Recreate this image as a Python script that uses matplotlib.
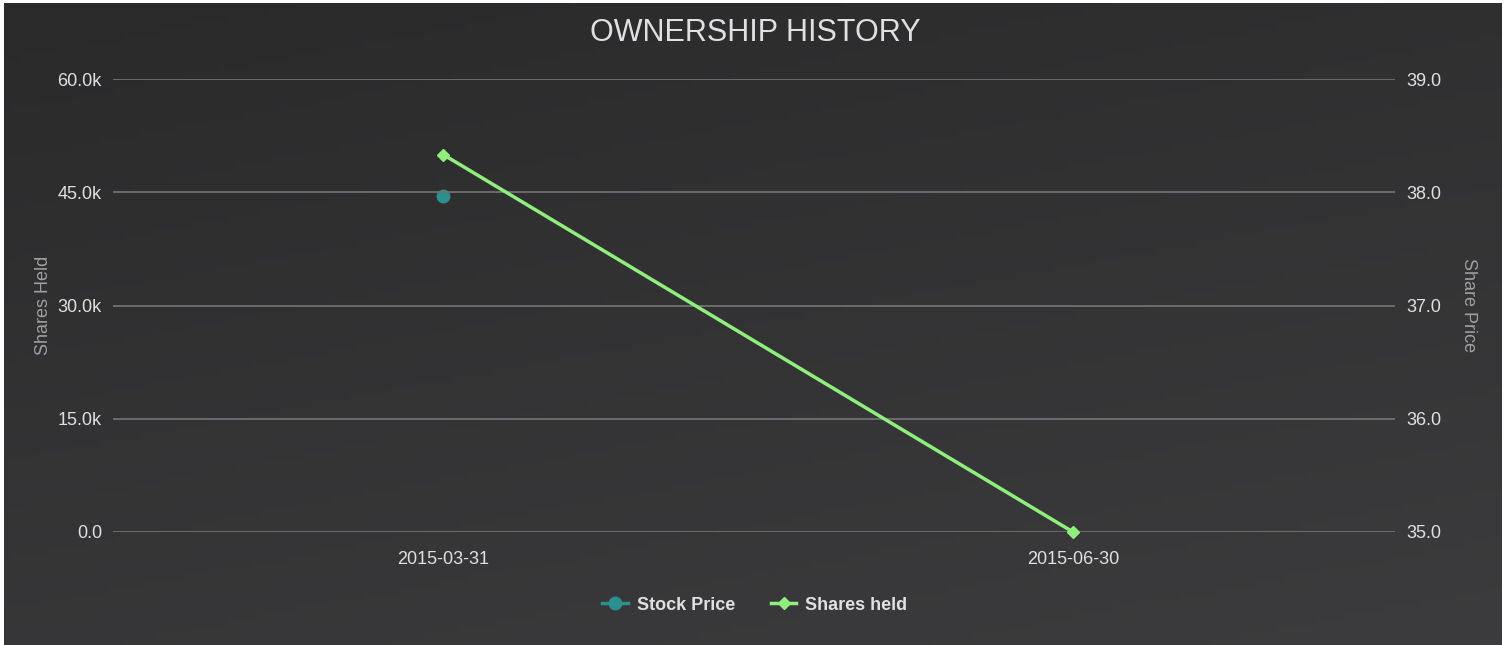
import numpy as np
import matplotlib.pyplot as plt
from matplotlib.ticker import FuncFormatter, FixedLocator
from matplotlib.colors import LinearSegmentedColormap

# data
dates = ["2015-03-31", "2015-06-30"]
stock_price = [37.97, np.nan]
shares_held = [50000, 0]

shares_ticks = [0, 15000, 30000, 45000, 60000]
price_ticks = [35.0, 36.0, 37.0, 38.0, 39.0]

plt.rcParams['font.family'] = ['Liberation Sans', 'DejaVu Sans']

text_col = "#e0e0e3"
label_col = "#a0a0a3"
grid_col = "#707073"
price_col = "#2b908f"
shares_col = "#90ee7e"

fig = plt.figure(figsize=(15.1, 6.45), dpi=100, facecolor="white")

# dark gradient background, darker at the top left
bg = fig.add_axes([4 / 1510, 0, 1498 / 1510, 1 - 3 / 645])
xx, yy = np.meshgrid(np.linspace(0, 1, 200), np.linspace(0, 1, 100))
grad = xx * 0.3 + yy * 0.7
cmap = LinearSegmentedColormap.from_list("bg", ["#2a2a2b", "#3c3c3e"])
bg.imshow(grad, cmap=cmap, aspect="auto", extent=[0, 1, 0, 1], origin="upper")
bg.set_axis_off()

left, right = 113 / 1510, 1395 / 1510
bottom, top = 1 - 532 / 645, 1 - 79 / 645
ax = fig.add_axes([left, bottom, right - left, top - bottom])
ax.patch.set_alpha(0)
ax2 = ax.twinx()
ax2.patch.set_alpha(0)

x = np.arange(len(dates))

ax2.plot(x, stock_price, color=price_col, marker="o", markersize=9, lw=2.5,
         label="Stock Price", clip_on=False, zorder=3)
ax.plot(x, shares_held, color=shares_col, marker="D", markersize=6.5, lw=2.5,
        label="Shares held", clip_on=False, zorder=4)
ax.set_zorder(ax2.get_zorder() + 1)

ax.set_xlim(-0.524, 1.511)
ax.set_ylim(0, 60000)
ax2.set_ylim(35, 39)

ax.yaxis.set_major_locator(FixedLocator(shares_ticks))
ax.yaxis.set_major_formatter(FuncFormatter(lambda v, p: "{:.1f}k".format(v / 1000) if v else "0.0"))
ax2.yaxis.set_major_locator(FixedLocator(price_ticks))
ax2.yaxis.set_major_formatter(FuncFormatter(lambda v, p: "{:.1f}".format(v)))

ax.set_xticks(x)
ax.set_xticklabels(dates)

ax.grid(True, axis="y", color=grid_col, lw=1.3)
ax.set_axisbelow(True)

for a in (ax, ax2):
    for s in a.spines.values():
        s.set_visible(False)
    a.tick_params(length=0, colors=text_col, labelsize=13)
ax.tick_params(axis="y", pad=8)
ax2.tick_params(axis="y", pad=8)
ax.tick_params(axis="x", pad=14)

ax.set_ylabel("Shares Held", color=label_col, fontsize=13, labelpad=4)
ax2.set_ylabel("Share Price", color=label_col, fontsize=13, rotation=270, labelpad=26)

fig.text(0.5, 1 - 33 / 645, "OWNERSHIP HISTORY", color=text_col, fontsize=22,
         ha="center", va="center")

h1, l1 = ax2.get_legend_handles_labels()
h2, l2 = ax.get_legend_handles_labels()
leg = fig.legend(h1 + h2, l1 + l2, loc="center", bbox_to_anchor=(0.5, 1 - 605 / 645),
                 ncol=2, frameon=False, handlelength=1.4, columnspacing=2.0,
                 handletextpad=0.5, prop={"weight": "bold", "size": 13})
for t in leg.get_texts():
    t.set_color(text_col)

fig.savefig("out.png", dpi=100, facecolor=fig.get_facecolor())
